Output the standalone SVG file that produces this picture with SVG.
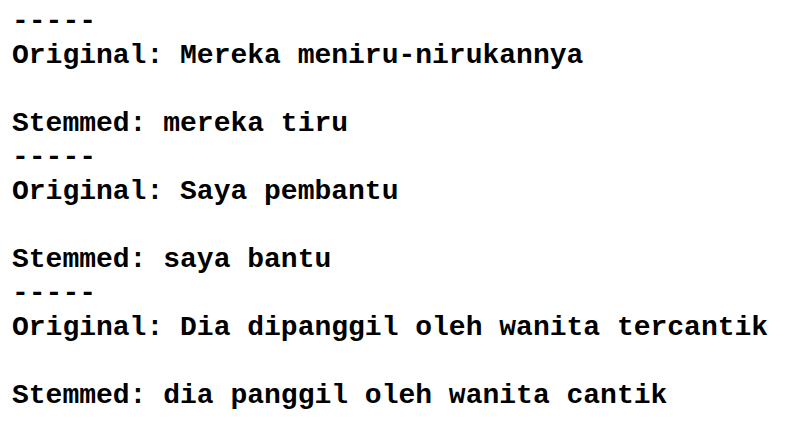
<svg xmlns="http://www.w3.org/2000/svg" width="794" height="428" viewBox="0 0 794 428">
<style>
text{font-family:"Liberation Mono","Courier New",monospace;font-weight:bold;font-size:28px;fill:#000;white-space:pre}
</style>
<rect width="794" height="428" fill="#fff"/>
<g id="block1">
<text x="12" y="29">-----</text>
<text x="12" y="63">Original: Mereka meniru-nirukannya</text>
<text x="12" y="131">Stemmed: mereka tiru</text>
</g>
<g id="block2">
<text x="12" y="165">-----</text>
<text x="12" y="199">Original: Saya pembantu</text>
<text x="12" y="267">Stemmed: saya bantu</text>
</g>
<g id="block3">
<text x="12" y="301">-----</text>
<text x="12" y="335">Original: Dia dipanggil oleh wanita tercantik</text>
<text x="12" y="403">Stemmed: dia panggil oleh wanita cantik</text>
</g>
</svg>
